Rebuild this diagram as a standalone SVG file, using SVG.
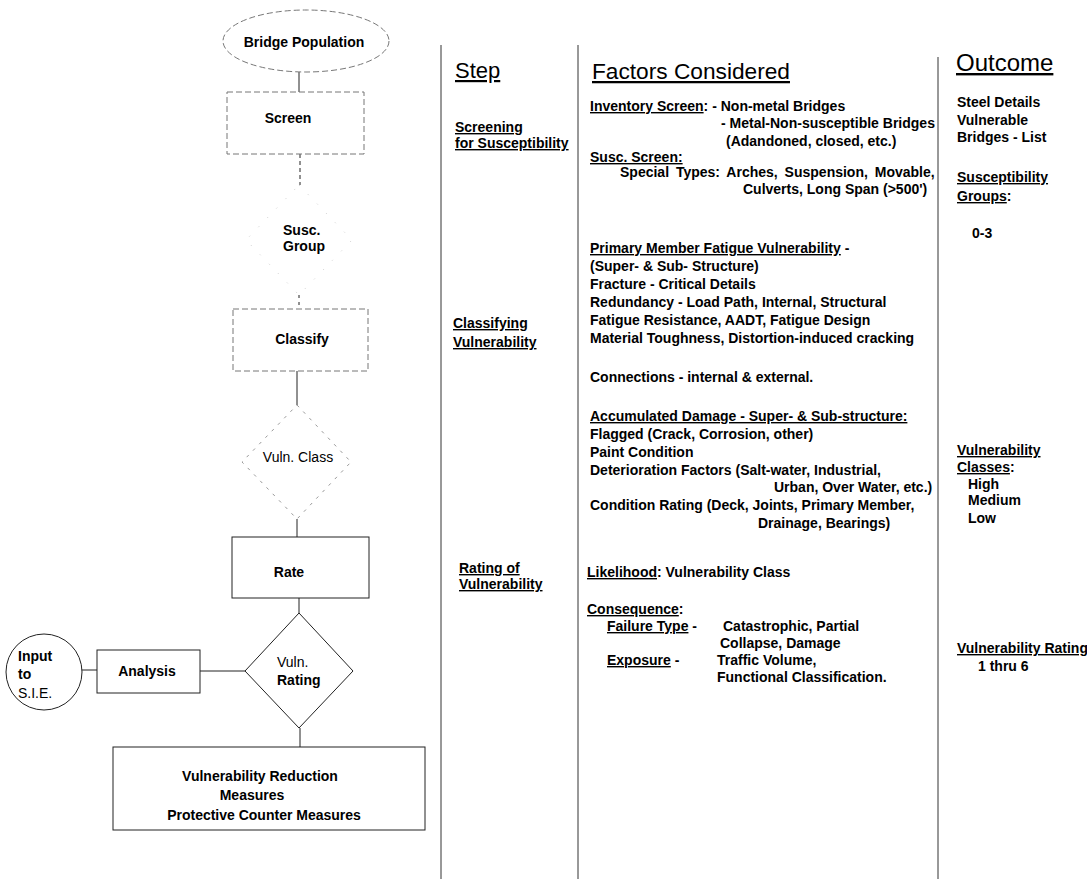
<svg xmlns="http://www.w3.org/2000/svg" width="1087" height="879" viewBox="0 0 1087 879">
<style>
text{font-family:"Liberation Sans",Arial,sans-serif;font-size:14px;font-weight:bold;fill:#000}
.h{font-size:22px;font-weight:normal}
.u{text-decoration:underline}
.m{text-anchor:middle}
.box{fill:#fff;stroke:#222;stroke-width:1}
.faint{fill:none;stroke:#777;stroke-width:1;stroke-dasharray:6 3}
.vfaint{fill:none;stroke:#ccc;stroke-width:1;stroke-dasharray:1 12}
.con line{stroke:#222;stroke-width:1}
.div{stroke:#333;stroke-width:1}
</style>
<rect width="1087" height="879" fill="#fff"/>

<g id="connectors" class="con">
<line x1="299" y1="72" x2="299" y2="92"/>
<line x1="300" y1="154" x2="300" y2="185" stroke-dasharray="4 3"/>
<line x1="299" y1="295" x2="299" y2="309" stroke-dasharray="3 4"/>
<line x1="297" y1="371" x2="297" y2="405"/>
<line x1="297" y1="519" x2="297" y2="537"/>
<line x1="299" y1="598" x2="299" y2="613"/>
<line x1="245" y1="671" x2="200" y2="671"/>
<line x1="97" y1="670" x2="81" y2="670"/>
<line x1="300" y1="728" x2="300" y2="747"/>
</g>

<g id="n-bridge-population">
<ellipse cx="306" cy="41" rx="83" ry="31" class="faint"/>
<text x="304" y="47" class="m">Bridge Population</text>
</g>
<g id="n-screen">
<rect x="227" y="92" width="137" height="62" class="faint"/>
<text x="288" y="123" class="m">Screen</text>
</g>
<g id="n-susc-group">
<polygon points="299,185 352,240 299,295 246,240" class="vfaint"/>
<text x="283" y="235">Susc.</text>
<text x="283" y="251">Group</text>
</g>
<g id="n-classify">
<rect x="233" y="309" width="135" height="62" class="faint"/>
<text x="302" y="344" class="m">Classify</text>
</g>
<g id="n-vuln-class">
<polygon points="297,405 351,462 297,519 242,462" class="vfaint" style="stroke:#999;stroke-dasharray:3 6"/>
<text x="298" y="462" class="m" style="font-weight:normal">Vuln. Class</text>
</g>
<g id="n-rate">
<rect x="232" y="537" width="137" height="61" class="box"/>
<text x="289" y="577" class="m">Rate</text>
</g>
<g id="n-vuln-rating">
<polygon points="299,613 353,671 299,728 245,671" class="box"/>
<text x="277" y="667" style="font-weight:normal">Vuln.</text>
<text x="277" y="685">Rating</text>
</g>
<g id="n-analysis">
<rect x="97" y="650" width="103" height="43" class="box"/>
<text x="147" y="676" class="m">Analysis</text>
</g>
<g id="n-input-sie">
<circle cx="44" cy="672" r="38" class="box"/>
<text x="18" y="661">Input</text>
<text x="18" y="679">to</text>
<text x="18" y="698" style="font-weight:normal">S.I.E.</text>
</g>
<g id="n-reduction">
<rect x="113" y="747" width="312" height="83" class="box"/>
<text x="260" y="781" class="m">Vulnerability Reduction</text>
<text x="252" y="800" class="m">Measures</text>
<text x="264" y="820" class="m">Protective Counter Measures</text>
</g>

<g id="dividers">
<line x1="441" y1="45" x2="441" y2="879" class="div"/>
<line x1="578" y1="45" x2="578" y2="879" class="div"/>
<line x1="938" y1="57" x2="938" y2="879" class="div"/>
</g>

<g id="headers">
<text x="455" y="78" class="h u">Step</text>
<text x="592" y="79" class="h u" style="font-size:22.7px">Factors Considered</text>
<text x="956" y="71" class="h u" style="font-size:24px">Outcome</text>
</g>

<g id="step-col">
<text x="455" y="132" class="u">Screening</text>
<text x="455" y="148" class="u">for Susceptibility</text>
<text x="453" y="328" class="u">Classifying</text>
<text x="453" y="347" class="u">Vulnerability</text>
<text x="459" y="573" class="u">Rating of</text>
<text x="459" y="589" class="u">Vulnerability</text>
</g>

<g id="factors-col">
<text x="590" y="111"><tspan class="u">Inventory Screen</tspan>: -  Non-metal Bridges</text>
<text x="721" y="128">-  Metal-Non-susceptible Bridges</text>
<text x="726" y="146">(Adandoned, closed, etc.)</text>
<text x="590" y="162" class="u">Susc. Screen:</text>
<text x="620" y="177" word-spacing="3">Special Types: Arches, Suspension, Movable,</text>
<text x="743" y="194">Culverts, Long Span (&gt;500')</text>
<text x="590" y="253"><tspan class="u">Primary Member Fatigue Vulnerability</tspan>  -</text>
<text x="590" y="271">(Super- &amp; Sub- Structure)</text>
<text x="590" y="289">Fracture - Critical Details</text>
<text x="590" y="307">Redundancy - Load Path, Internal, Structural</text>
<text x="590" y="325">Fatigue Resistance, AADT, Fatigue Design</text>
<text x="590" y="343">Material Toughness, Distortion-induced cracking</text>
<text x="590" y="382">Connections - internal &amp; external.</text>
<text x="590" y="421" class="u">Accumulated Damage - Super- &amp; Sub-structure:</text>
<text x="590" y="439">Flagged (Crack, Corrosion, other)</text>
<text x="590" y="457">Paint Condition</text>
<text x="590" y="475">Deterioration Factors (Salt-water, Industrial,</text>
<text x="774" y="492">Urban, Over Water, etc.)</text>
<text x="590" y="510">Condition Rating (Deck, Joints, Primary Member,</text>
<text x="758" y="528">Drainage, Bearings)</text>
<text x="587" y="577"><tspan class="u">Likelihood</tspan>: Vulnerability Class</text>
<text x="587" y="614"><tspan class="u">Consequence</tspan>:</text>
<text x="607" y="631"><tspan class="u">Failure Type</tspan> -</text>
<text x="723" y="631">Catastrophic, Partial</text>
<text x="720" y="648">Collapse, Damage</text>
<text x="607" y="665"><tspan class="u">Exposure</tspan> -</text>
<text x="717" y="665">Traffic Volume,</text>
<text x="717" y="682">Functional Classification.</text>
</g>

<g id="outcome-col">
<text x="957" y="107">Steel Details</text>
<text x="957" y="125">Vulnerable</text>
<text x="957" y="142">Bridges - List</text>
<text x="957" y="182" class="u">Susceptibility</text>
<text x="957" y="201"><tspan class="u">Groups</tspan>:</text>
<text x="972" y="238">0-3</text>
<text x="957" y="455" class="u">Vulnerability</text>
<text x="957" y="472"><tspan class="u">Classes</tspan>:</text>
<text x="968" y="489">High</text>
<text x="968" y="505">Medium</text>
<text x="968" y="523">Low</text>
<text x="957" y="653" class="u">Vulnerability Rating</text>
<text x="978" y="671">1 thru 6</text>
</g>
</svg>
